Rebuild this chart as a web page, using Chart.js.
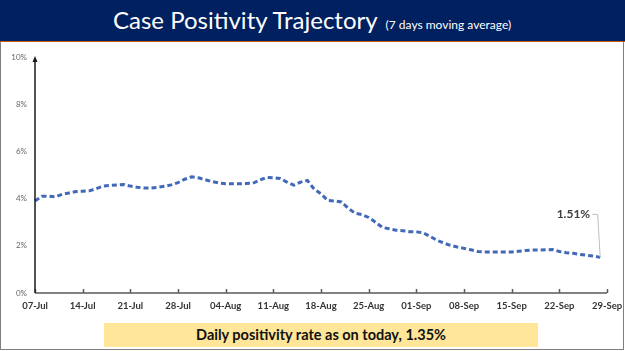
<!DOCTYPE html>
<html>
<head>
<meta charset="utf-8">
<script src="https://cdn.jsdelivr.net/npm/chart.js@4.4.1/dist/chart.umd.min.js"></script>
<style>
  html, body { margin: 0; padding: 0; background: #fff; }
  #page { position: relative; width: 625px; height: 351px; overflow: hidden; }
  #band { position: absolute; left: 0; top: 0; width: 625px; height: 41px; background: #002060;
          border-bottom: 1px solid #c55a11; }
  #title { position: absolute; left: 113px; top: 5px; white-space: nowrap; color: #fff;
           font-family: Lato, sans-serif; }
  #title .big { font-size: 24px; }
  #title .small { font-size: 12px; margin-left: 8px; }
  #frame { position: absolute; left: 0; top: 42px; width: 622px; height: 307px;
           border: 1.5px solid #7f7f7f; border-top: none; }
  #wrap { position: absolute; left: 0; top: 42px; width: 625px; height: 281px; }
  #note { position: absolute; left: 104px; top: 323px; width: 434px; height: 24px; background: #ffe699;
          font-family: Lato, sans-serif; font-weight: bold; font-size: 14.5px; color: #111;
          text-align: center; line-height: 24px; }
</style>
</head>
<body>
<div id="page">
  <div id="band"></div>
  <div id="title"><span class="big">Case Positivity Trajectory</span><span class="small">(7 days moving average)</span></div>
  <div id="frame"></div>
  <div id="wrap"><canvas id="positivityChart"></canvas></div>
  <div id="note">Daily positivity rate as on today, 1.35%</div>
</div>
<script>
// one label per day, 07-Jul to 29-Sep
const dates = [
  "07-Jul","08-Jul","09-Jul","10-Jul","11-Jul","12-Jul","13-Jul","14-Jul","15-Jul","16-Jul","17-Jul","18-Jul","19-Jul",
  "20-Jul","21-Jul","22-Jul","23-Jul","24-Jul","25-Jul","26-Jul","27-Jul","28-Jul","29-Jul","30-Jul","31-Jul",
  "01-Aug","02-Aug","03-Aug","04-Aug","05-Aug","06-Aug","07-Aug","08-Aug","09-Aug","10-Aug","11-Aug","12-Aug",
  "13-Aug","14-Aug","15-Aug","16-Aug","17-Aug","18-Aug","19-Aug","20-Aug","21-Aug","22-Aug","23-Aug","24-Aug",
  "25-Aug","26-Aug","27-Aug","28-Aug","29-Aug","30-Aug","31-Aug",
  "01-Sep","02-Sep","03-Sep","04-Sep","05-Sep","06-Sep","07-Sep","08-Sep","09-Sep","10-Sep","11-Sep","12-Sep",
  "13-Sep","14-Sep","15-Sep","16-Sep","17-Sep","18-Sep","19-Sep","20-Sep","21-Sep","22-Sep","23-Sep","24-Sep",
  "25-Sep","26-Sep","27-Sep","28-Sep","29-Sep"
];

// 7 day moving average positivity (%), ends 28-Sep
const positivity = [
  3.90, 4.10, 4.10, 4.07, 4.18, 4.24, 4.30, 4.31, 4.33, 4.42, 4.53, 4.56, 4.58, 4.60,
  4.53, 4.48, 4.45, 4.45, 4.48, 4.52, 4.58, 4.68, 4.82, 4.92, 4.88, 4.80, 4.72, 4.66,
  4.63, 4.63, 4.63, 4.64, 4.65, 4.78, 4.90, 4.88, 4.85, 4.70, 4.57, 4.70, 4.77, 4.40,
  4.20, 3.92, 3.90, 3.86, 3.59, 3.38, 3.32, 3.20, 3.00, 2.78, 2.72, 2.66, 2.64, 2.60,
  2.59, 2.55, 2.40, 2.24, 2.12, 2.02, 1.95, 1.89, 1.83, 1.76, 1.74, 1.74, 1.74, 1.74,
  1.74, 1.77, 1.80, 1.82, 1.82, 1.83, 1.84, 1.76, 1.71, 1.68, 1.63, 1.60, 1.57, 1.51
];

const yTicks = [0, 2, 4, 6, 8, 10];
const tickEvery = 7;
const lastLabel = "1.51%";

// axes, arrow, inner tick marks and the callout on the last point
const decorations = {
  id: "decorations",
  afterDatasetsDraw(chart) {
    const ctx = chart.ctx;
    const a = chart.chartArea;
    const x = chart.scales.x;
    ctx.save();
    ctx.lineWidth = 1.5;
    ctx.strokeStyle = "#595959";
    ctx.beginPath();
    ctx.moveTo(a.left, a.bottom);
    ctx.lineTo(a.right, a.bottom);
    ctx.stroke();
    for (let i = 0; i < dates.length; i += tickEvery) {
      const px = Math.round(x.getPixelForValue(i)) + 0.5;
      ctx.beginPath();
      ctx.moveTo(px, a.bottom - 4);
      ctx.lineTo(px, a.bottom);
      ctx.stroke();
    }
    ctx.strokeStyle = "#1a1a1a";
    ctx.fillStyle = "#1a1a1a";
    ctx.beginPath();
    ctx.moveTo(a.left, a.bottom);
    ctx.lineTo(a.left, a.top + 3);
    ctx.stroke();
    ctx.beginPath();
    ctx.moveTo(a.left, a.top - 1);
    ctx.lineTo(a.left - 2.5, a.top + 5);
    ctx.lineTo(a.left + 2.5, a.top + 5);
    ctx.closePath();
    ctx.fill();

    const pts = chart.getDatasetMeta(0).data;
    const p = pts[positivity.length - 1];
    const ty = p.y - 43;
    ctx.strokeStyle = "#bfbfbf";
    ctx.lineWidth = 1;
    ctx.beginPath();
    ctx.moveTo(p.x - 8, ty);
    ctx.lineTo(p.x - 2.5, ty);
    ctx.lineTo(p.x, p.y);
    ctx.stroke();
    ctx.fillStyle = "#404040";
    ctx.font = "bold 12px Lato";
    ctx.textAlign = "right";
    ctx.textBaseline = "middle";
    ctx.fillText(lastLabel, p.x - 10, ty);
    ctx.restore();
  }
};

const ctx = document.getElementById("positivityChart").getContext("2d");

new Chart(ctx, {
  type: "line",
  data: {
    labels: dates,
    datasets: [
      {
        label: "Case positivity",
        data: positivity,
        borderColor: "#4169b8",
        borderWidth: 3,
        borderDash: [5, 3],
        pointRadius: 0,
        tension: 0,
        fill: false,
      },
    ],
  },
  options: {
    responsive: true,
    maintainAspectRatio: false,
    animation: false,
    layout: { padding: { top: 15, right: 18, left: 0, bottom: 0 } },
    plugins: {
      legend: { display: false },
      tooltip: { enabled: false },
    },
    scales: {
      x: {
        offset: false,
        grid: { display: false, drawTicks: false, tickLength: 0 },
        border: { display: false },
        ticks: {
          autoSkip: false,
          maxRotation: 0,
          padding: 7,
          color: "#333",
          font: { family: "Lato", size: 9.5, weight: "bold" },
          callback: function (value, index) {
            return index % tickEvery === 0 ? dates[index] : null;
          },
        },
        afterFit: function (scale) {
          scale.height = 30;
          scale.paddingLeft = 0;
          scale.paddingRight = 0;
        },
      },
      y: {
        min: yTicks[0],
        max: yTicks[yTicks.length - 1],
        grid: { display: false, drawTicks: false, tickLength: 0 },
        border: { display: false },
        afterBuildTicks: function (scale) {
          scale.ticks = yTicks.map(function (v) { return { value: v }; });
        },
        ticks: {
          padding: 8,
          color: "#666",
          font: { family: "Lato", size: 8 },
          callback: function (value) {
            return value + "%";
          },
        },
        afterFit: function (scale) {
          scale.width = 35;
          scale.paddingTop = 0;
          scale.paddingBottom = 0;
        },
      },
    },
  },
  plugins: [decorations],
});
</script>
</body>
</html>
